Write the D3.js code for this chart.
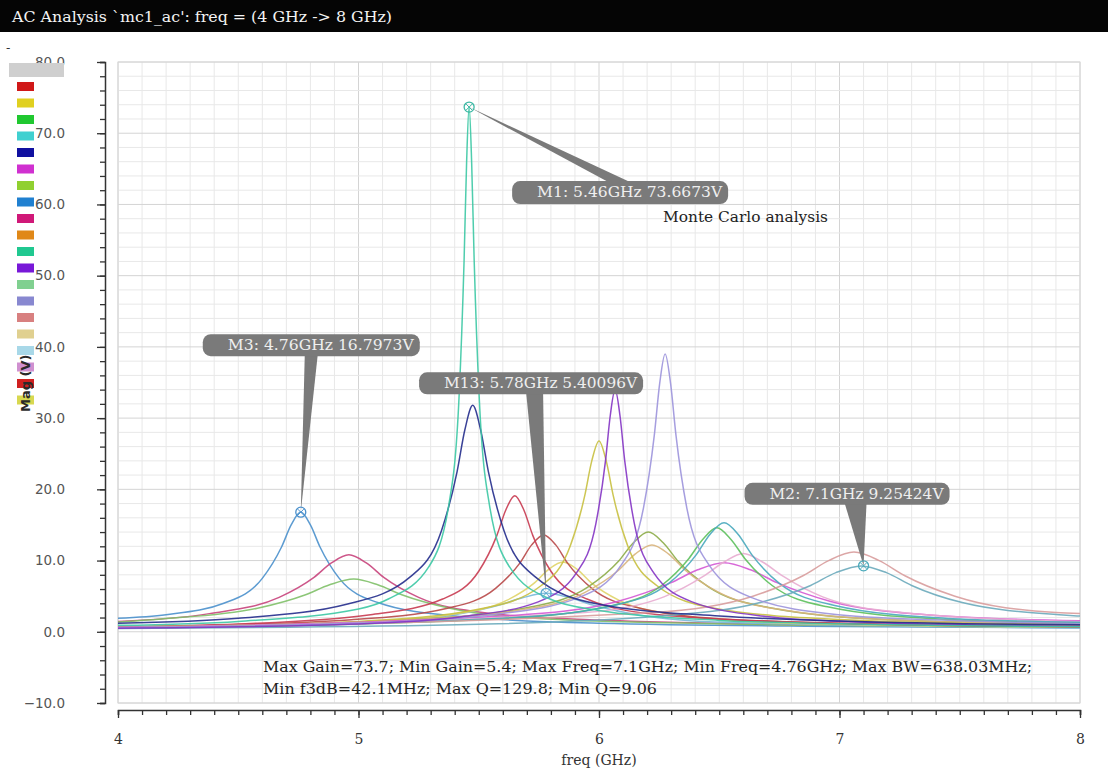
<!DOCTYPE html>
<html>
<head>
<meta charset="utf-8">
<script src="https://cdn.jsdelivr.net/npm/d3@7"></script>
<style>
  body { margin: 0; background: #fff; }
  svg { display: block; }
</style>
</head>
<body>
<script>
// ---- data ----
const title = "AC Analysis `mc1_ac': freq = (4 GHz -> 8 GHz)"
const xTickLabels = [4, 5, 6, 7, 8]
const yTickLabels = [80, 70, 60, 50, 40, 30, 20, 10, 0, -10]
const statsLines = [
    'Max Gain=73.7; Min Gain=5.4; Max Freq=7.1GHz; Min Freq=4.76GHz; Max BW=638.03MHz;',
    'Min f3dB=42.1MHz; Max Q=129.8; Min Q=9.06'
]
const legendColors = ['#d01818','#e0d020','#20c830','#40d0d0','#1010a0','#d030d0','#90d030','#2080d0',
    '#d01878','#e08818','#20c890','#7818d8','#80d090','#8888d0','#d88080','#e0d090','#a8d8e8','#d090d0','#d02020','#d8d850']

// each run: [freq GHz, mag V]
const runM1 = [[4.0,0.9],[4.5,1.46],[5.0,3.2],[5.124,4.6],[5.292,9.1],[5.376,17.9],[5.418,32.9],[5.439,52.1],[5.4495,65.9],[5.46,73.7],
    [5.4705,65.9],[5.481,52.1],[5.502,32.9],[5.544,17.9],[5.628,9.1],[5.796,4.6],[6.0,3.0],[6.5,1.6],[7.0,1.13],[8.0,0.72]]
const runM3 = [[4.0,1.9],[4.2,2.4],[4.44,4.0],[4.6,7.5],[4.68,11.9],[4.72,15.0],[4.76,16.8],[4.8,15.0],[4.84,11.9],[4.92,7.5],
    [5.08,4.1],[5.4,2.2],[6.0,1.2],[7.0,0.75],[8.0,0.55]]
const runCrimson = [[4.0,1.45],[4.38,2.55],[4.67,4.83],[4.815,7.64],[4.8875,9.66],[4.96,10.8],[5.0325,9.66],[5.105,7.64],[5.25,4.83],
    [5.54,2.6],[6.0,1.64],[7.0,0.9],[8.0,0.64]]
const runLtGreen = [[4.0,1.37],[4.18,1.8],[4.58,3.3],[4.78,5.2],[4.88,6.6],[4.98,7.4],[5.08,6.6],[5.18,5.2],[5.38,3.3],[5.78,1.8],[6.5,1.13],[8.0,0.62]]
const runNavy = [[4.0,1.19],[4.5,1.9],[4.955,3.9],[5.215,7.7],[5.345,14.2],[5.41,22.5],[5.4425,28.4],[5.475,31.8],[5.5075,28.4],[5.54,22.5],
    [5.605,14.2],[5.735,7.7],[5.995,3.9],[6.5,2.2],[7.0,1.52],[8.0,0.97]]
const runRed = [[4.0,0.71],[4.5,1.09],[5.05,2.4],[5.35,4.6],[5.5,8.5],[5.575,13.5],[5.6125,17.1],[5.65,19.1],[5.6875,17.1],[5.725,13.5],
    [5.8,8.5],[5.95,4.6],[6.25,2.4],[7.0,1.16],[8.0,0.7]]
const runBrown = [[4.0,0.63],[4.97,1.7],[5.37,3.3],[5.57,6.1],[5.67,9.6],[5.72,12.2],[5.77,13.6],[5.82,12.2],[5.87,9.6],[5.97,6.1],
    [6.17,3.3],[6.57,1.7],[7.5,0.88],[8.0,0.7]]
const runOlive = [[4.0,0.64],[5.0,1.46],[5.52,3.3],[5.76,6.5],[5.88,12.0],[5.94,19.0],[5.97,24.0],[6.0,26.8],[6.03,24.0],[6.06,19.0],
    [6.12,12.0],[6.24,6.5],[6.48,3.3],[7.0,1.73],[8.0,0.92]]
const runPurple = [[4.0,0.5],[5.0,1.09],[5.427,2.1],[5.747,4.2],[5.907,8.3],[5.987,15.2],[6.027,24.0],[6.047,30.4],[6.067,34.0],[6.087,30.4],
    [6.107,24.0],[6.147,15.2],[6.227,8.3],[6.387,4.2],[6.707,2.1],[7.0,1.48],[8.0,0.76]]
const runLavender = [[4.0,0.6],[5.0,1.22],[5.555,2.4],[5.915,4.8],[6.095,9.5],[6.185,17.4],[6.23,27.6],[6.2525,34.9],[6.275,39.0],[6.2975,34.9],
    [6.32,27.6],[6.365,17.4],[6.455,9.5],[6.635,4.8],[6.995,2.4],[7.5,1.56],[8.0,1.13]]
const runGrass = [[4.0,0.62],[5.205,1.7],[5.705,3.4],[5.955,6.3],[6.081,9.9],[6.143,12.5],[6.205,14.0],[6.267,12.5],[6.329,9.9],[6.455,6.3],
    [6.705,3.4],[7.205,1.7],[8.0,1.09]]
const runTan = [[4.0,0.61],[5.1,1.5],[5.66,3.0],[5.94,5.5],[6.08,8.6],[6.15,10.9],[6.22,12.2],[6.29,10.9],[6.36,8.6],[6.5,5.5],[6.78,3.0],
    [7.34,1.5],[8.0,1.09]]
const runTeal = [[4.0,0.54],[5.6,1.9],[6.06,3.7],[6.29,6.8],[6.404,10.8],[6.462,13.7],[6.52,15.3],[6.578,13.7],[6.636,10.8],[6.75,6.8],
    [6.98,3.7],[7.44,1.9],[8.0,1.33]]
const runGreen = [[4.0,0.53],[5.57,1.8],[6.03,3.5],[6.26,6.5],[6.374,10.3],[6.432,13.0],[6.49,14.6],[6.548,13.0],[6.606,10.3],[6.72,6.5],
    [6.95,3.5],[7.41,1.8],[8.0,1.23]]
const runMagenta = [[4.0,0.63],[5.64,2.3],[6.08,4.3],[6.3,6.9],[6.41,8.7],[6.52,9.7],[6.63,8.7],[6.74,6.9],[6.96,4.3],[7.4,2.3],[8.0,1.55]]
const runPink = [[4.0,0.53],[5.94,2.7],[6.27,4.9],[6.435,7.8],[6.52,9.8],[6.6,11.0],[6.68,9.8],[6.765,7.8],[6.93,4.9],[7.26,2.7],[8.0,1.41]]
const runSalmon = [[4.0,0.55],[6.22,2.7],[6.64,5.0],[6.85,7.9],[6.955,10.0],[7.06,11.2],[7.165,10.0],[7.27,7.9],[7.48,5.0],[7.9,2.7],[8.0,2.57]]
const runM2 = [[4.0,0.45],[5.5,1.06],[6.25,2.2],[6.67,4.1],[6.88,6.5],[6.985,8.3],[7.09,9.25],[7.195,8.3],[7.3,6.5],[7.51,4.1],[7.93,2.35],[8.0,2.2]]
const runYellow = [[4.0,0.5],[4.91,1.2],[5.38,2.4],[5.616,4.4],[5.733,6.9],[5.792,8.8],[5.85,9.8],[5.908,8.8],[5.967,6.9],[6.084,4.4],
    [6.32,2.4],[6.79,1.2],[8.0,0.62]]
const runM13 = [[4.0,0.48],[5.02,1.3],[5.4,2.4],[5.59,3.8],[5.685,4.8],[5.78,5.4],[5.875,4.8],[5.97,3.8],[6.16,2.4],[6.54,1.3],[8.0,0.54]]

const markerNames = ['M1', 'M3', 'M13', 'M2']
const markerFreqs = [5.46, 4.76, 5.78, 7.1]
const markerMags = [73.6673, 16.7973, 5.40096, 9.25424]
const markerTexts = ['M1: 5.46GHz 73.6673V', 'M3: 4.76GHz 16.7973V', 'M13: 5.78GHz 5.40096V', 'M2: 7.1GHz 9.25424V']

// ---- layout ----
const W = 1108, H = 771
const plot = {left: 118, right: 1080, top: 62, bottom: 703}
const serif = "'DejaVu Serif', 'Liberation Serif', serif"
const sans = "'DejaVu Sans', Verdana, sans-serif"

const runs = [
    {pts: runM3, color: '#4a90cc'},
    {pts: runCrimson, color: '#c8447c'},
    {pts: runLtGreen, color: '#80c068'},
    {pts: runM13, color: '#78b8d8'},
    {pts: runYellow, color: '#e0d468'},
    {pts: runBrown, color: '#b84848'},
    {pts: runRed, color: '#c83a50'},
    {pts: runGrass, color: '#8cac48'},
    {pts: runTan, color: '#d8b47c'},
    {pts: runOlive, color: '#c8c040'},
    {pts: runMagenta, color: '#d458d4'},
    {pts: runPink, color: '#e8acd0'},
    {pts: runGreen, color: '#5cc05c'},
    {pts: runTeal, color: '#48a8bc'},
    {pts: runSalmon, color: '#d89c9c'},
    {pts: runM2, color: '#6aaabb'},
    {pts: runLavender, color: '#9c94dc'},
    {pts: runPurple, color: '#8434c4'},
    {pts: runNavy, color: '#232c8c'},
    {pts: runM1, color: '#3cc8a4'}
]
const markerColors = ['#3cb8a4', '#4a90cc', '#5aa8d0', '#4aaabb']
// callout boxes, px offsets from marker point
const callouts = [
    {dx: 43, dy: 74, w: 216, h: 23, p0: 98, p1: 120},
    {dx: -98, dy: -178, w: 217, h: 22, p0: 102, p1: 115},
    {dx: -127, dy: -221, w: 224, h: 22, p0: 107, p1: 124},
    {dx: -119, dy: -83, w: 205, h: 22, p0: 100, p1: 122}
]

const x = d3.scaleLinear().domain([4, 8]).range([plot.left, plot.right])
const y = d3.scaleLinear().domain([-10, 80]).range([plot.bottom, plot.top])

const svg = d3.select('body').append('svg')
    .attr('width', W)
    .attr('height', H)

svg.append('rect').attr('width', W).attr('height', H).attr('fill', '#fff')

// title bar
svg.append('rect').attr('x', 0).attr('y', 0).attr('width', W).attr('height', 32).attr('fill', '#050505')
svg.append('text')
    .attr('x', 12).attr('y', 22)
    .attr('fill', '#f4f4f4')
    .style('font-family', serif).style('font-size', '15px')
    .attr('textLength', 380).attr('lengthAdjust', 'spacingAndGlyphs')
    .text(title)

// grid
const grid = svg.append('g')
grid.selectAll('.vg').data(d3.range(0, 41).map(i => 4 + i * 0.1)).enter()
    .append('line')
    .attr('x1', d => x(d)).attr('x2', d => x(d))
    .attr('y1', plot.top).attr('y2', plot.bottom)
    .attr('stroke', (d, i) => i % 10 == 0 ? '#d4d4d4' : '#e8e8e8')
    .attr('stroke-width', 1)
grid.selectAll('.hg').data(d3.range(-10, 81, 2)).enter()
    .append('line')
    .attr('x1', plot.left).attr('x2', plot.right)
    .attr('y1', d => y(d)).attr('y2', d => y(d))
    .attr('stroke', d => d % 10 == 0 ? '#d4d4d4' : '#e8e8e8')
    .attr('stroke-width', 1)
svg.append('rect')
    .attr('x', plot.left).attr('y', plot.top)
    .attr('width', plot.right - plot.left).attr('height', plot.bottom - plot.top)
    .attr('fill', 'none').attr('stroke', '#d8d8d8')

// curves
svg.append('clipPath').attr('id', 'clip')
    .append('rect')
    .attr('x', plot.left).attr('y', plot.top)
    .attr('width', plot.right - plot.left).attr('height', plot.bottom - plot.top)

const line = d3.line()
    .x(d => x(d[0]))
    .y(d => y(d[1]))
    .curve(d3.curveMonotoneX)

svg.append('g').attr('clip-path', 'url(#clip)')
    .selectAll('path').data(runs).enter()
    .append('path')
    .attr('d', d => line(d.pts))
    .attr('fill', 'none')
    .attr('stroke', d => d.color)
    .attr('stroke-width', 1.5)
    .attr('stroke-opacity', 0.9)

// y axis
const yAxisX = 105
svg.append('g')
    .attr('transform', `translate(${yAxisX},0)`)
    .call(d3.axisLeft(y).tickValues(d3.range(-10, 81, 2)).tickSize(5).tickFormat(''))
    .call(g => g.select('.domain').attr('stroke', '#333').attr('stroke-width', 1.5))
    .call(g => g.selectAll('.tick line').attr('stroke', '#333').attr('stroke-width', 1.3))
svg.append('g')
    .attr('transform', `translate(${yAxisX},0)`)
    .call(d3.axisLeft(y).tickValues(yTickLabels).tickSize(8).tickPadding(32).tickFormat(d3.format('.1f')))
    .call(g => g.select('.domain').remove())
    .call(g => g.selectAll('.tick line').attr('stroke', '#333').attr('stroke-width', 1.3))
    .call(g => g.selectAll('text').attr('fill', '#555')
        .style('font-family', sans).style('font-size', '13.5px'))

// x axis
const xAxisY = 710
svg.append('g')
    .attr('transform', `translate(0,${xAxisY})`)
    .call(d3.axisBottom(x).ticks(40).tickSize(5).tickFormat(''))
    .call(g => g.select('.domain').attr('stroke', '#333').attr('stroke-width', 1.5))
    .call(g => g.selectAll('.tick line').attr('stroke', '#333').attr('stroke-width', 1.3))
svg.append('g')
    .attr('transform', `translate(0,${xAxisY})`)
    .call(d3.axisBottom(x).tickValues(xTickLabels).tickSize(8).tickPadding(16).tickFormat(d3.format('d')))
    .call(g => g.select('.domain').remove())
    .call(g => g.selectAll('.tick line').attr('stroke', '#333').attr('stroke-width', 1.3))
    .call(g => g.selectAll('text').attr('fill', '#333')
        .style('font-family', serif).style('font-size', '14px'))

svg.append('text')
    .attr('x', x(6)).attr('y', 765)
    .attr('text-anchor', 'middle')
    .attr('fill', '#333')
    .style('font-family', serif).style('font-size', '14px')
    .text('freq (GHz)')

// legend swatches
svg.append('text').attr('x', 6).attr('y', 52).attr('fill', '#333')
    .style('font-family', sans).style('font-size', '12px').text('-')
svg.append('rect').attr('x', 9).attr('y', 63).attr('width', 55).attr('height', 14).attr('fill', '#cfcfcf')
svg.append('g').selectAll('rect').data(legendColors).enter()
    .append('rect')
    .attr('x', 17).attr('y', (d, i) => 82 + i * 16.5)
    .attr('width', 17).attr('height', 9)
    .attr('fill', d => d)

svg.append('text')
    .attr('transform', 'translate(30,412) rotate(-90)')
    .attr('fill', '#2a2a2a')
    .style('font-family', sans).style('font-size', '13px').style('font-weight', 'bold')
    .text('Mag (V)')

// stats text
svg.selectAll('.stats').data(statsLines).enter()
    .append('text')
    .attr('x', 263).attr('y', (d, i) => 672 + i * 22)
    .attr('fill', '#222')
    .attr('textLength', (d, i) => i == 0 ? 769 : 394)
    .attr('lengthAdjust', 'spacingAndGlyphs')
    .style('font-family', serif).style('font-size', '14.5px')
    .text(d => d)

svg.append('text')
    .attr('x', 663).attr('y', 222)
    .attr('fill', '#222')
    .attr('textLength', 165).attr('lengthAdjust', 'spacingAndGlyphs')
    .style('font-family', serif).style('font-size', '14.5px')
    .text('Monte Carlo analysis')

// markers + callouts
const mk = svg.append('g')
markerNames.forEach((name, i) => {
    const mx = x(markerFreqs[i]), my = y(markerMags[i])
    const c = callouts[i]
    const bx = mx + c.dx, by = my + c.dy
    const edgeY = my < by ? by + 2 : by + c.h - 2
    mk.append('polygon')
        .attr('points', [[bx + c.p0, edgeY], [bx + c.p1, edgeY], [mx, my]].map(p => p.join(',')).join(' '))
        .attr('fill', '#7a7a7a')
    mk.append('rect')
        .attr('x', bx).attr('y', by)
        .attr('width', c.w).attr('height', c.h)
        .attr('rx', 8)
        .attr('fill', '#7a7a7a')
    mk.append('text')
        .attr('x', bx + 25).attr('y', by + 16)
        .attr('fill', '#efefef')
        .attr('textLength', c.w - 31).attr('lengthAdjust', 'spacingAndGlyphs')
        .style('font-family', serif).style('font-size', '14.5px')
        .text(markerTexts[i])
    mk.append('circle')
        .attr('cx', mx).attr('cy', my).attr('r', 5)
        .attr('fill', 'none').attr('stroke', markerColors[i]).attr('stroke-width', 1.3)
    mk.append('path')
        .attr('d', `M${mx - 3},${my - 3}L${mx + 3},${my + 3}M${mx + 3},${my - 3}L${mx - 3},${my + 3}`)
        .attr('stroke', markerColors[i]).attr('stroke-width', 1)
})
</script>
</body>
</html>
